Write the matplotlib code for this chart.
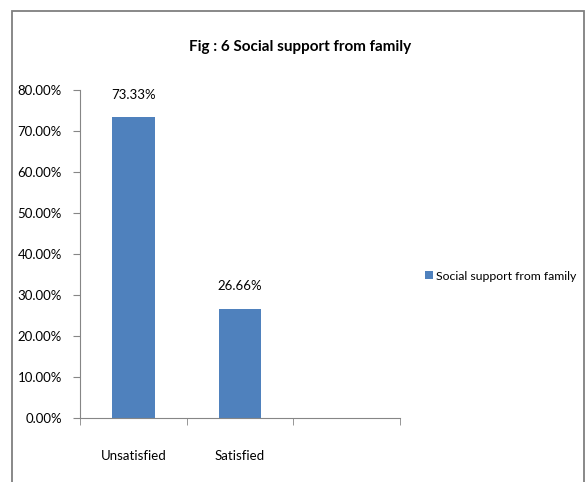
import matplotlib
matplotlib.use('Agg')
import matplotlib.pyplot as plt
from matplotlib.patches import Rectangle
from matplotlib.ticker import FuncFormatter
import numpy as np

plt.rcParams['font.family'] = ['Lato', 'DejaVu Sans']

categories = ['Unsatisfied', 'Satisfied', '']
values = [73.33, 26.66, None]
value_labels = ['73.33%', '26.66%']
series_name = 'Social support from family'
bar_color = '#4F81BD'

fig = plt.figure(figsize=(5.88, 4.82), dpi=100)
ax = fig.add_axes([0.136, 0.133, 0.544, 0.680])

# outer chart border (bottom edge is off the picture)
fig.patches.append(Rectangle((12 / 588, -0.1), (584 - 12) / 588, 1 - 11 / 482 + 0.1,
                             transform=fig.transFigure, fill=False,
                             edgecolor='#7f7f7f', linewidth=1.3))

x = np.arange(len(categories))
bx = [i for i, v in zip(x, values) if v is not None]
bv = [v for v in values if v is not None]
bars = ax.bar(bx, bv, width=0.4, color=bar_color, label=series_name, zorder=2)
for b, lab in zip(bars, value_labels):
    ax.text(b.get_x() + b.get_width() / 2, b.get_height() + 4, lab,
            ha='center', va='bottom', fontsize=9.5)

ax.set_xlim(-0.5, len(categories) - 0.5)
ax.set_ylim(0, 80)
ax.set_yticks(np.arange(0, 81, 10))
ax.yaxis.set_major_formatter(FuncFormatter(lambda v, p: '%.2f%%' % v))
ax.set_xticks(x)
ax.set_xticklabels(categories)
ax.set_xticks(np.arange(-0.5, len(categories), 1), minor=True)
ax.tick_params(axis='x', which='major', length=0, labelsize=9.5, pad=23)
ax.tick_params(axis='x', which='minor', length=5, color='#868686', direction='out')
ax.tick_params(axis='y', length=5, color='#868686', labelsize=9.5, pad=8)
for s in ['top', 'right']:
    ax.spines[s].set_visible(False)
for s in ['left', 'bottom']:
    ax.spines[s].set_color('#868686')

fig.text(0.51, 1 - 47 / 482, 'Fig : 6 Social support from family', ha='center', va='center',
         fontsize=11, fontweight='bold')

fig.legend(handles=[bars], labels=[series_name], loc='center left',
           bbox_to_anchor=(0.715, 1 - 276 / 482), frameon=False, fontsize=8.8,
           handlelength=0.6, handleheight=0.6, handletextpad=0.3, borderaxespad=0)

fig.savefig('out.png', dpi=100)
